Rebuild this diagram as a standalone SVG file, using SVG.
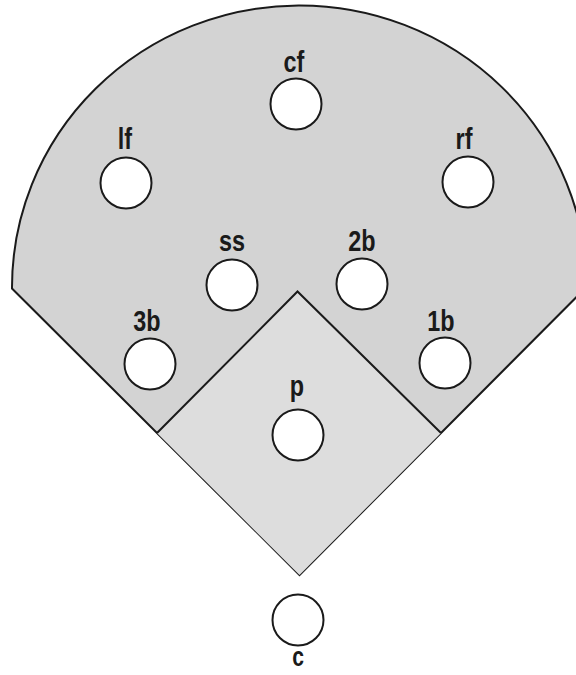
<svg xmlns="http://www.w3.org/2000/svg" width="576" height="675" viewBox="0 0 576 675">
<style>
.field{fill:#d3d3d3;stroke:#1a1a1a;stroke-width:2;stroke-linejoin:miter}
.infield{fill:#dddddd;stroke:none}
.bases{fill:none;stroke:#1a1a1a;stroke-width:2}
.pos circle{fill:#ffffff;stroke:#1a1a1a;stroke-width:2}
.pos text{font-family:"Liberation Sans",Arial,sans-serif;font-weight:bold;font-size:30px;fill:#1a1a1a;text-anchor:middle}
</style>
<rect width="576" height="675" fill="#ffffff"/>
<g id="connectors">
<path class="field" d="M 299.5 575 L 12 288.5 A 287.5 282 0 0 1 587 286.5 Z"/>
<path class="infield" d="M 299.5 575 L 157 433 L 297.5 291.5 L 441 433 Z"/>
<path class="bases" d="M 157 433 L 297.5 291.5 L 441 433"/>
</g>
<g id="cf" class="pos"><text transform="translate(294,72) scale(0.78,1)">cf</text><circle cx="296" cy="104" r="25.5"/></g>
<g id="lf" class="pos"><text transform="translate(125,149) scale(0.78,1)">lf</text><circle cx="126" cy="183" r="25.5"/></g>
<g id="rf" class="pos"><text transform="translate(464,149) scale(0.78,1)">rf</text><circle cx="468" cy="182" r="25.5"/></g>
<g id="ss" class="pos"><text transform="translate(232,251) scale(0.78,1)">ss</text><circle cx="232" cy="285" r="25.5"/></g>
<g id="2b" class="pos"><text transform="translate(362,251) scale(0.78,1)">2b</text><circle cx="362" cy="284" r="25.5"/></g>
<g id="3b" class="pos"><text transform="translate(147,331) scale(0.78,1)">3b</text><circle cx="150" cy="364" r="25.5"/></g>
<g id="1b" class="pos"><text transform="translate(441,331) scale(0.78,1)">1b</text><circle cx="445" cy="363" r="25.5"/></g>
<g id="p" class="pos"><text transform="translate(297,396) scale(0.78,1)">p</text><circle cx="298" cy="435" r="25.5"/></g>
<g id="c" class="pos"><circle cx="298" cy="620" r="25.5"/><text transform="translate(298,666) scale(0.78,1)" style="font-size:27px">c</text></g>
</svg>
